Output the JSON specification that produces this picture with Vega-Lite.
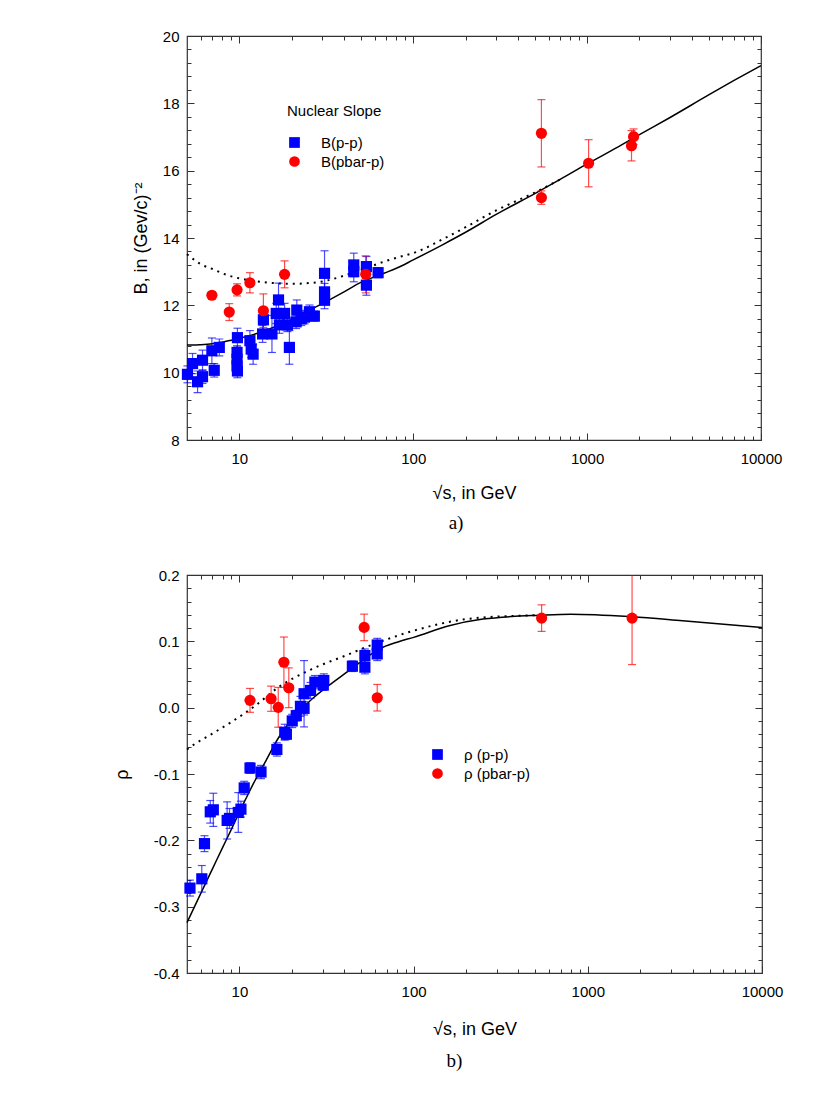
{
  "$schema": "https://vega.github.io/schema/vega-lite/v6.json",
  "padding": {"left": 112, "top": 28, "right": 10, "bottom": 10},
  "spacing": 33,
  "resolve": {"scale": {"color": "independent", "shape": "independent"}, "legend": {"color": "independent", "shape": "independent"}},
  "config": {
    "view": {"stroke": "#333", "strokeWidth": 1.2},
    "axis": {
      "grid": false, "domain": false, "tickColor": "#333", "tickWidth": 1,
      "labelFont": "Liberation Sans", "labelFontSize": 15, "labelColor": "black", "labelFlush": false,
      "titleFont": "Liberation Sans", "titleFontSize": 18, "titleFontWeight": "normal", "titleColor": "black"
    },
    "legend": {
      "titleFont": "Liberation Sans", "titleFontSize": 15, "titleFontWeight": "normal", "titleColor": "black",
      "labelFont": "Liberation Sans", "labelFontSize": 15, "labelColor": "black",
      "labelOffset": 19, "rowPadding": 2, "symbolSize": 115, "symbolOpacity": 1, "titlePadding": 16
    },
    "title": {"font": "Liberation Serif", "fontSize": 19, "fontWeight": "normal", "color": "black"}
  },
  "datasets": {
    "bLine": [
      {"x": 5, "y": 10.82}, {"x": 5.5, "y": 10.82}, {"x": 6, "y": 10.83}, {"x": 7, "y": 10.86},
      {"x": 8, "y": 10.91}, {"x": 9, "y": 10.96}, {"x": 10, "y": 11.02}, {"x": 12, "y": 11.13},
      {"x": 14, "y": 11.25}, {"x": 17, "y": 11.42}, {"x": 20, "y": 11.58}, {"x": 25, "y": 11.84},
      {"x": 30, "y": 12.05}, {"x": 40, "y": 12.4}, {"x": 50, "y": 12.68}, {"x": 60, "y": 12.85},
      {"x": 70, "y": 12.98}, {"x": 80, "y": 13.1}, {"x": 100, "y": 13.35}, {"x": 150, "y": 13.82},
      {"x": 200, "y": 14.17}, {"x": 300, "y": 14.7}, {"x": 500, "y": 15.32}, {"x": 700, "y": 15.74},
      {"x": 1000, "y": 16.2}, {"x": 1500, "y": 16.7}, {"x": 2000, "y": 17.07}, {"x": 3000, "y": 17.58},
      {"x": 5000, "y": 18.25}, {"x": 7000, "y": 18.68}, {"x": 10000, "y": 19.12}
    ],
    "bDot": [
      {"x": 5, "y": 13.52}, {"x": 5.5, "y": 13.35}, {"x": 6, "y": 13.22}, {"x": 7, "y": 13.08},
      {"x": 8, "y": 12.95}, {"x": 9, "y": 12.86}, {"x": 10, "y": 12.8}, {"x": 12, "y": 12.73},
      {"x": 15, "y": 12.67}, {"x": 20, "y": 12.64}, {"x": 25, "y": 12.66}, {"x": 30, "y": 12.71},
      {"x": 40, "y": 12.88}, {"x": 50, "y": 13.06}, {"x": 60, "y": 13.2}, {"x": 70, "y": 13.32},
      {"x": 85, "y": 13.45}, {"x": 100, "y": 13.55}, {"x": 150, "y": 13.98}, {"x": 200, "y": 14.32},
      {"x": 300, "y": 14.82}, {"x": 400, "y": 15.12}, {"x": 500, "y": 15.35}, {"x": 700, "y": 15.74}
    ],
    "bPts": [
      {"x": 5.03, "y": 9.95, "lo": 9.7, "hi": 10.2, "series": "B(p-p)"},
      {"x": 5.38, "y": 10.27, "lo": 9.97, "hi": 10.57, "series": "B(p-p)"},
      {"x": 5.75, "y": 9.73, "lo": 9.41, "hi": 10.05, "series": "B(p-p)"},
      {"x": 6.14, "y": 10.37, "lo": 10.07, "hi": 10.67, "series": "B(p-p)"},
      {"x": 6.14, "y": 9.88, "lo": 9.68, "hi": 10.08, "series": "B(p-p)"},
      {"x": 6.95, "y": 10.65, "lo": 10.27, "hi": 11.03, "series": "B(p-p)"},
      {"x": 7.17, "y": 10.07, "lo": 9.87, "hi": 10.27, "series": "B(p-p)"},
      {"x": 7.67, "y": 10.75, "lo": 10.5, "hi": 11.0, "series": "B(p-p)"},
      {"x": 9.75, "y": 11.04, "lo": 10.76, "hi": 11.32, "series": "B(p-p)"},
      {"x": 9.7, "y": 10.6, "lo": 10.4, "hi": 10.8, "series": "B(p-p)"},
      {"x": 9.7, "y": 10.4, "lo": 10.15, "hi": 10.65, "series": "B(p-p)"},
      {"x": 9.7, "y": 10.2, "lo": 10.0, "hi": 10.4, "series": "B(p-p)"},
      {"x": 9.75, "y": 10.05, "lo": 9.85, "hi": 10.25, "series": "B(p-p)"},
      {"x": 11.5, "y": 10.95, "lo": 10.65, "hi": 11.25, "series": "B(p-p)"},
      {"x": 11.7, "y": 10.7, "lo": 10.45, "hi": 10.95, "series": "B(p-p)"},
      {"x": 12.0, "y": 10.55, "lo": 10.25, "hi": 10.85, "series": "B(p-p)"},
      {"x": 13.75, "y": 11.57, "lo": 11.27, "hi": 11.87, "series": "B(p-p)"},
      {"x": 13.6, "y": 11.15, "lo": 10.9, "hi": 11.4, "series": "B(p-p)"},
      {"x": 15.4, "y": 11.15, "lo": 10.6, "hi": 11.7, "series": "B(p-p)"},
      {"x": 16.8, "y": 12.16, "lo": 11.66, "hi": 12.66, "series": "B(p-p)"},
      {"x": 16.3, "y": 11.76, "lo": 11.46, "hi": 12.06, "series": "B(p-p)"},
      {"x": 18.2, "y": 11.76, "lo": 11.46, "hi": 12.06, "series": "B(p-p)"},
      {"x": 17.0, "y": 11.42, "lo": 11.17, "hi": 11.67, "series": "B(p-p)"},
      {"x": 18.9, "y": 11.42, "lo": 11.22, "hi": 11.62, "series": "B(p-p)"},
      {"x": 19.4, "y": 10.75, "lo": 10.25, "hi": 11.25, "series": "B(p-p)"},
      {"x": 21.4, "y": 11.86, "lo": 11.56, "hi": 12.16, "series": "B(p-p)"},
      {"x": 21.2, "y": 11.51, "lo": 11.31, "hi": 11.71, "series": "B(p-p)"},
      {"x": 22.7, "y": 11.6, "lo": 11.4, "hi": 11.8, "series": "B(p-p)"},
      {"x": 23.7, "y": 11.65, "lo": 11.45, "hi": 11.85, "series": "B(p-p)"},
      {"x": 25.3, "y": 11.81, "lo": 11.61, "hi": 12.01, "series": "B(p-p)"},
      {"x": 27.0, "y": 11.68, "lo": 11.53, "hi": 11.83, "series": "B(p-p)"},
      {"x": 30.9, "y": 12.95, "lo": 12.28, "hi": 13.62, "series": "B(p-p)"},
      {"x": 30.9, "y": 12.4, "lo": 12.15, "hi": 12.65, "series": "B(p-p)"},
      {"x": 30.9, "y": 12.15, "lo": 11.9, "hi": 12.4, "series": "B(p-p)"},
      {"x": 45.5, "y": 13.2, "lo": 12.85, "hi": 13.55, "series": "B(p-p)"},
      {"x": 45.5, "y": 13.0, "lo": 12.7, "hi": 13.3, "series": "B(p-p)"},
      {"x": 53.8, "y": 13.15, "lo": 12.85, "hi": 13.45, "series": "B(p-p)"},
      {"x": 53.8, "y": 12.6, "lo": 12.3, "hi": 12.9, "series": "B(p-p)"},
      {"x": 62.8, "y": 12.97, "lo": 12.82, "hi": 13.12, "series": "B(p-p)"},
      {"x": 6.95, "y": 12.3, "lo": 12.2, "hi": 12.4, "series": "B(pbar-p)"},
      {"x": 8.75, "y": 11.8, "lo": 11.55, "hi": 12.05, "series": "B(pbar-p)"},
      {"x": 9.7, "y": 12.46, "lo": 12.28, "hi": 12.64, "series": "B(pbar-p)"},
      {"x": 11.5, "y": 12.67, "lo": 12.37, "hi": 12.97, "series": "B(pbar-p)"},
      {"x": 13.75, "y": 11.84, "lo": 11.34, "hi": 12.34, "series": "B(pbar-p)"},
      {"x": 18.2, "y": 12.92, "lo": 12.52, "hi": 13.32, "series": "B(pbar-p)"},
      {"x": 53.3, "y": 12.92, "lo": 12.37, "hi": 13.47, "series": "B(pbar-p)"},
      {"x": 546, "y": 17.11, "lo": 16.11, "hi": 18.11, "series": "B(pbar-p)"},
      {"x": 546, "y": 15.2, "lo": 15.0, "hi": 15.4, "series": "B(pbar-p)"},
      {"x": 1020, "y": 16.22, "lo": 15.52, "hi": 16.92, "series": "B(pbar-p)"},
      {"x": 1800, "y": 16.74, "lo": 16.29, "hi": 17.19, "series": "B(pbar-p)"},
      {"x": 1850, "y": 17.01, "lo": 16.78, "hi": 17.24, "series": "B(pbar-p)"}
    ],
    "rLine": [
      {"x": 5, "y": -0.324}, {"x": 6, "y": -0.28}, {"x": 7, "y": -0.243}, {"x": 8, "y": -0.211},
      {"x": 9, "y": -0.183}, {"x": 10, "y": -0.157}, {"x": 11, "y": -0.135}, {"x": 12, "y": -0.115},
      {"x": 14, "y": -0.083}, {"x": 16.8, "y": -0.045}, {"x": 19, "y": -0.025}, {"x": 21, "y": -0.012},
      {"x": 26.2, "y": 0.0135}, {"x": 32.6, "y": 0.0335}, {"x": 40.6, "y": 0.052}, {"x": 50.7, "y": 0.071},
      {"x": 63, "y": 0.088}, {"x": 82, "y": 0.0995}, {"x": 100, "y": 0.106}, {"x": 160, "y": 0.1235},
      {"x": 250, "y": 0.1335}, {"x": 540, "y": 0.1395}, {"x": 800, "y": 0.141}, {"x": 1800, "y": 0.137},
      {"x": 3500, "y": 0.131}, {"x": 10000, "y": 0.121}
    ],
    "rDot": [
      {"x": 5, "y": -0.063}, {"x": 5.6, "y": -0.054}, {"x": 7, "y": -0.039}, {"x": 8.7, "y": -0.024},
      {"x": 12.4, "y": 0.0035}, {"x": 16.8, "y": 0.031}, {"x": 26.2, "y": 0.0585}, {"x": 40.6, "y": 0.0785},
      {"x": 63, "y": 0.0985}, {"x": 100, "y": 0.116}, {"x": 200, "y": 0.1335}, {"x": 400, "y": 0.1385},
      {"x": 540, "y": 0.1395}
    ],
    "rPts": [
      {"x": 5.2, "y": -0.272, "lo": -0.284, "hi": -0.26, "series": "ρ (p-p)"},
      {"x": 6.08, "y": -0.258, "lo": -0.278, "hi": -0.238, "series": "ρ (p-p)"},
      {"x": 6.3, "y": -0.205, "lo": -0.217, "hi": -0.193, "series": "ρ (p-p)"},
      {"x": 6.8, "y": -0.157, "lo": -0.174, "hi": -0.14, "series": "ρ (p-p)"},
      {"x": 7.08, "y": -0.154, "lo": -0.179, "hi": -0.129, "series": "ρ (p-p)"},
      {"x": 8.5, "y": -0.17, "lo": -0.198, "hi": -0.142, "series": "ρ (p-p)"},
      {"x": 8.77, "y": -0.167, "lo": -0.182, "hi": -0.152, "series": "ρ (p-p)"},
      {"x": 9.85, "y": -0.158, "lo": -0.188, "hi": -0.128, "series": "ρ (p-p)"},
      {"x": 10.2, "y": -0.153, "lo": -0.165, "hi": -0.141, "series": "ρ (p-p)"},
      {"x": 10.65, "y": -0.121, "lo": -0.131, "hi": -0.111, "series": "ρ (p-p)"},
      {"x": 11.5, "y": -0.091, "lo": -0.099, "hi": -0.083, "series": "ρ (p-p)"},
      {"x": 13.3, "y": -0.097, "lo": -0.107, "hi": -0.087, "series": "ρ (p-p)"},
      {"x": 16.4, "y": -0.063, "lo": -0.073, "hi": -0.053, "series": "ρ (p-p)"},
      {"x": 18.2, "y": -0.037, "lo": -0.049, "hi": -0.025, "series": "ρ (p-p)"},
      {"x": 18.6, "y": -0.04, "lo": -0.048, "hi": -0.032, "series": "ρ (p-p)"},
      {"x": 20.1, "y": -0.02, "lo": -0.03, "hi": -0.01, "series": "ρ (p-p)"},
      {"x": 21.2, "y": -0.012, "lo": -0.02, "hi": -0.004, "series": "ρ (p-p)"},
      {"x": 22.4, "y": 0.002, "lo": -0.013, "hi": 0.017, "series": "ρ (p-p)"},
      {"x": 23.5, "y": -0.001, "lo": -0.011, "hi": 0.009, "series": "ρ (p-p)"},
      {"x": 23.5, "y": 0.021, "lo": -0.029, "hi": 0.071, "series": "ρ (p-p)"},
      {"x": 25.6, "y": 0.026, "lo": 0.014, "hi": 0.038, "series": "ρ (p-p)"},
      {"x": 27.1, "y": 0.0385, "lo": 0.0285, "hi": 0.0485, "series": "ρ (p-p)"},
      {"x": 30.5, "y": 0.041, "lo": 0.031, "hi": 0.051, "series": "ρ (p-p)"},
      {"x": 30.3, "y": 0.034, "lo": 0.026, "hi": 0.042, "series": "ρ (p-p)"},
      {"x": 44.5, "y": 0.0625, "lo": 0.0545, "hi": 0.0705, "series": "ρ (p-p)"},
      {"x": 52.5, "y": 0.0785, "lo": 0.0685, "hi": 0.0885, "series": "ρ (p-p)"},
      {"x": 52.5, "y": 0.061, "lo": 0.051, "hi": 0.071, "series": "ρ (p-p)"},
      {"x": 61.8, "y": 0.0945, "lo": 0.0845, "hi": 0.1045, "series": "ρ (p-p)"},
      {"x": 61.8, "y": 0.081, "lo": 0.071, "hi": 0.091, "series": "ρ (p-p)"},
      {"x": 11.5, "y": 0.011, "lo": -0.007, "hi": 0.029, "series": "ρ (pbar-p)"},
      {"x": 15.2, "y": 0.0135, "lo": -0.0055, "hi": 0.0325, "series": "ρ (pbar-p)"},
      {"x": 16.7, "y": 0.0005, "lo": -0.0295, "hi": 0.0305, "series": "ρ (pbar-p)"},
      {"x": 18.0, "y": 0.0685, "lo": 0.0305, "hi": 0.1065, "series": "ρ (pbar-p)"},
      {"x": 19.2, "y": 0.03, "lo": 0.0, "hi": 0.06, "series": "ρ (pbar-p)"},
      {"x": 52, "y": 0.121, "lo": 0.101, "hi": 0.141, "series": "ρ (pbar-p)"},
      {"x": 61.8, "y": 0.015, "lo": -0.005, "hi": 0.035, "series": "ρ (pbar-p)"},
      {"x": 543, "y": 0.135, "lo": 0.115, "hi": 0.155, "series": "ρ (pbar-p)"},
      {"x": 1795, "y": 0.135, "lo": 0.065, "hi": 0.205, "series": "ρ (pbar-p)"}
    ]
  },
  "vconcat": [
    {
      "width": 574,
      "height": 404,
      "title": {"text": "a)", "orient": "bottom", "anchor": "middle", "dx": -18, "offset": 12},
      "resolve": {"axis": {"x": "independent", "y": "independent"}},
      "layer": [
        {
          "data": {"name": "bLine"},
          "mark": {"type": "line", "color": "black", "strokeWidth": 1.5, "interpolate": "monotone"},
          "encoding": {
            "x": {"field": "x", "type": "quantitative",
              "scale": {"type": "log", "domain": [5, 10000], "nice": false},
              "axis": {"orient": "bottom", "values": [10, 100, 1000, 10000], "format": "d", "tickSize": -7, "labelPadding": 18, "title": "√s, in GeV", "titlePadding": 18}},
            "y": {"field": "y", "type": "quantitative",
              "scale": {"domain": [8, 20], "nice": false, "zero": false},
              "axis": {"orient": "left", "values": [8, 10, 12, 14, 16, 18, 20], "format": "d", "tickSize": -7, "labelPadding": 15, "title": "B, in (Gev/c)⁻²", "titlePadding": 12}}
          }
        },
        {
          "data": {"name": "bDot"},
          "mark": {"type": "line", "color": "black", "strokeWidth": 2, "strokeDash": [2, 5], "interpolate": "monotone"},
          "encoding": {
            "x": {"field": "x", "type": "quantitative",
              "scale": {"type": "log", "domain": [5, 10000], "nice": false},
              "axis": {"orient": "bottom", "values": [6, 7, 8, 9, 20, 30, 40, 50, 60, 70, 80, 90, 200, 300, 400, 500, 600, 700, 800, 900, 2000, 3000, 4000, 5000, 6000, 7000, 8000, 9000], "tickSize": -4, "labels": false, "title": null}},
            "y": {"field": "y", "type": "quantitative",
              "scale": {"domain": [8, 20], "nice": false, "zero": false},
              "axis": {"orient": "left", "values": [8.4, 8.8, 9.2, 9.6, 10.4, 10.8, 11.2, 11.6, 12.4, 12.8, 13.2, 13.6, 14.4, 14.8, 15.2, 15.6, 16.4, 16.8, 17.2, 17.6, 18.4, 18.8, 19.2, 19.6], "tickSize": -4, "labels": false, "title": null}}
          }
        },
        {
          "data": {"name": "bPts"},
          "mark": {"type": "rule", "opacity": 0.7, "strokeWidth": 1.2},
          "encoding": {
            "x": {"field": "x", "type": "quantitative",
              "scale": {"type": "log", "domain": [5, 10000], "nice": false},
              "axis": {"orient": "top", "values": [10, 100, 1000, 10000], "tickSize": -7, "labels": false, "title": null}},
            "y": {"field": "lo", "type": "quantitative",
              "scale": {"domain": [8, 20], "nice": false, "zero": false},
              "axis": {"orient": "right", "values": [8, 10, 12, 14, 16, 18, 20], "tickSize": -7, "labels": false, "title": null}},
            "y2": {"field": "hi"},
            "color": {"condition": {"test": "datum.series === 'B(p-p)'", "value": "#0000ff"}, "value": "#ff0000"}
          }
        },
        {
          "data": {"name": "bPts"},
          "mark": {"type": "tick", "orient": "horizontal", "size": 8, "thickness": 1.2, "opacity": 0.7},
          "encoding": {
            "x": {"field": "x", "type": "quantitative",
              "scale": {"type": "log", "domain": [5, 10000], "nice": false},
              "axis": {"orient": "top", "values": [6, 7, 8, 9, 20, 30, 40, 50, 60, 70, 80, 90, 200, 300, 400, 500, 600, 700, 800, 900, 2000, 3000, 4000, 5000, 6000, 7000, 8000, 9000], "tickSize": -4, "labels": false, "title": null}},
            "y": {"field": "lo", "type": "quantitative",
              "scale": {"domain": [8, 20], "nice": false, "zero": false},
              "axis": {"orient": "right", "values": [8.4, 8.8, 9.2, 9.6, 10.4, 10.8, 11.2, 11.6, 12.4, 12.8, 13.2, 13.6, 14.4, 14.8, 15.2, 15.6, 16.4, 16.8, 17.2, 17.6, 18.4, 18.8, 19.2, 19.6], "tickSize": -4, "labels": false, "title": null}},
            "color": {"condition": {"test": "datum.series === 'B(p-p)'", "value": "#0000ff"}, "value": "#ff0000"}
          }
        },
        {
          "data": {"name": "bPts"},
          "mark": {"type": "tick", "orient": "horizontal", "size": 8, "thickness": 1.2, "opacity": 0.7},
          "encoding": {
            "x": {"field": "x", "type": "quantitative", "scale": {"type": "log", "domain": [5, 10000], "nice": false}, "axis": null},
            "y": {"field": "hi", "type": "quantitative", "scale": {"domain": [8, 20], "nice": false, "zero": false}, "axis": null},
            "color": {"condition": {"test": "datum.series === 'B(p-p)'", "value": "#0000ff"}, "value": "#ff0000"}
          }
        },
        {
          "data": {"name": "bPts"},
          "mark": {"type": "point", "filled": true, "opacity": 1, "size": 125},
          "encoding": {
            "x": {"field": "x", "type": "quantitative", "scale": {"type": "log", "domain": [5, 10000], "nice": false}, "axis": null},
            "y": {"field": "y", "type": "quantitative", "scale": {"domain": [8, 20], "nice": false, "zero": false}, "axis": null},
            "color": {"field": "series", "type": "nominal",
              "scale": {"domain": ["B(p-p)", "B(pbar-p)"], "range": ["#0000ff", "#ff0000"]},
              "legend": {"title": "Nuclear Slope", "orient": "none", "legendX": 100, "legendY": 68}},
            "shape": {"field": "series", "type": "nominal",
              "scale": {"domain": ["B(p-p)", "B(pbar-p)"], "range": ["square", "circle"]},
              "legend": {"title": "Nuclear Slope", "orient": "none", "legendX": 100, "legendY": 68}}
          }
        }
      ]
    },
    {
      "width": 575,
      "height": 398,
      "title": {"text": "b)", "orient": "bottom", "anchor": "middle", "dx": -20, "offset": 14},
      "resolve": {"axis": {"x": "independent", "y": "independent"}},
      "layer": [
        {
          "data": {"name": "rLine"},
          "mark": {"type": "line", "color": "black", "strokeWidth": 1.5, "interpolate": "monotone"},
          "encoding": {
            "x": {"field": "x", "type": "quantitative",
              "scale": {"type": "log", "domain": [5, 10000], "nice": false},
              "axis": {"orient": "bottom", "values": [10, 100, 1000, 10000], "format": "d", "tickSize": -7, "labelPadding": 18, "title": "√s, in GeV", "titlePadding": 21}},
            "y": {"field": "y", "type": "quantitative",
              "scale": {"domain": [-0.4, 0.2], "nice": false, "zero": false},
              "axis": {"orient": "left", "values": [-0.4, -0.3, -0.2, -0.1, 0, 0.1, 0.2], "labelExpr": "replace(format(datum.value, '.1f'), '−', '-')", "tickSize": -7, "labelPadding": 15, "title": "ρ", "titlePadding": 22}}
          }
        },
        {
          "data": {"name": "rDot"},
          "mark": {"type": "line", "color": "black", "strokeWidth": 2, "strokeDash": [2, 5], "interpolate": "monotone"},
          "encoding": {
            "x": {"field": "x", "type": "quantitative",
              "scale": {"type": "log", "domain": [5, 10000], "nice": false},
              "axis": {"orient": "bottom", "values": [6, 7, 8, 9, 20, 30, 40, 50, 60, 70, 80, 90, 200, 300, 400, 500, 600, 700, 800, 900, 2000, 3000, 4000, 5000, 6000, 7000, 8000, 9000], "tickSize": -4, "labels": false, "title": null}},
            "y": {"field": "y", "type": "quantitative",
              "scale": {"domain": [-0.4, 0.2], "nice": false, "zero": false},
              "axis": {"orient": "left", "values": [-0.38, -0.36, -0.34, -0.32, -0.28, -0.26, -0.24, -0.22, -0.18, -0.16, -0.14, -0.12, -0.08, -0.06, -0.04, -0.02, 0.02, 0.04, 0.06, 0.08, 0.12, 0.14, 0.16, 0.18], "tickSize": -4, "labels": false, "title": null}}
          }
        },
        {
          "data": {"name": "rPts"},
          "mark": {"type": "rule", "opacity": 0.7, "strokeWidth": 1.2, "clip": true},
          "encoding": {
            "x": {"field": "x", "type": "quantitative",
              "scale": {"type": "log", "domain": [5, 10000], "nice": false},
              "axis": {"orient": "top", "values": [10, 100, 1000, 10000], "tickSize": -7, "labels": false, "title": null}},
            "y": {"field": "lo", "type": "quantitative",
              "scale": {"domain": [-0.4, 0.2], "nice": false, "zero": false},
              "axis": {"orient": "right", "values": [-0.4, -0.3, -0.2, -0.1, 0, 0.1, 0.2], "tickSize": -7, "labels": false, "title": null}},
            "y2": {"field": "hi"},
            "color": {"condition": {"test": "datum.series === 'ρ (p-p)'", "value": "#0000ff"}, "value": "#ff0000"}
          }
        },
        {
          "data": {"name": "rPts"},
          "mark": {"type": "tick", "orient": "horizontal", "size": 8, "thickness": 1.2, "opacity": 0.7},
          "encoding": {
            "x": {"field": "x", "type": "quantitative",
              "scale": {"type": "log", "domain": [5, 10000], "nice": false},
              "axis": {"orient": "top", "values": [6, 7, 8, 9, 20, 30, 40, 50, 60, 70, 80, 90, 200, 300, 400, 500, 600, 700, 800, 900, 2000, 3000, 4000, 5000, 6000, 7000, 8000, 9000], "tickSize": -4, "labels": false, "title": null}},
            "y": {"field": "lo", "type": "quantitative",
              "scale": {"domain": [-0.4, 0.2], "nice": false, "zero": false},
              "axis": {"orient": "right", "values": [-0.38, -0.36, -0.34, -0.32, -0.28, -0.26, -0.24, -0.22, -0.18, -0.16, -0.14, -0.12, -0.08, -0.06, -0.04, -0.02, 0.02, 0.04, 0.06, 0.08, 0.12, 0.14, 0.16, 0.18], "tickSize": -4, "labels": false, "title": null}},
            "color": {"condition": {"test": "datum.series === 'ρ (p-p)'", "value": "#0000ff"}, "value": "#ff0000"}
          }
        },
        {
          "data": {"name": "rPts"},
          "mark": {"type": "tick", "orient": "horizontal", "size": 8, "thickness": 1.2, "opacity": 0.7, "clip": true},
          "encoding": {
            "x": {"field": "x", "type": "quantitative", "scale": {"type": "log", "domain": [5, 10000], "nice": false}, "axis": null},
            "y": {"field": "hi", "type": "quantitative", "scale": {"domain": [-0.4, 0.2], "nice": false, "zero": false}, "axis": null},
            "color": {"condition": {"test": "datum.series === 'ρ (p-p)'", "value": "#0000ff"}, "value": "#ff0000"}
          }
        },
        {
          "data": {"name": "rPts"},
          "mark": {"type": "point", "filled": true, "opacity": 1, "size": 125},
          "encoding": {
            "x": {"field": "x", "type": "quantitative", "scale": {"type": "log", "domain": [5, 10000], "nice": false}, "axis": null},
            "y": {"field": "y", "type": "quantitative", "scale": {"domain": [-0.4, 0.2], "nice": false, "zero": false}, "axis": null},
            "color": {"field": "series", "type": "nominal",
              "scale": {"domain": ["ρ (p-p)", "ρ (pbar-p)"], "range": ["#0000ff", "#ff0000"]},
              "legend": {"title": null, "orient": "none", "legendX": 243, "legendY": 172}},
            "shape": {"field": "series", "type": "nominal",
              "scale": {"domain": ["ρ (p-p)", "ρ (pbar-p)"], "range": ["square", "circle"]},
              "legend": {"title": null, "orient": "none", "legendX": 243, "legendY": 172}}
          }
        }
      ]
    }
  ]
}
